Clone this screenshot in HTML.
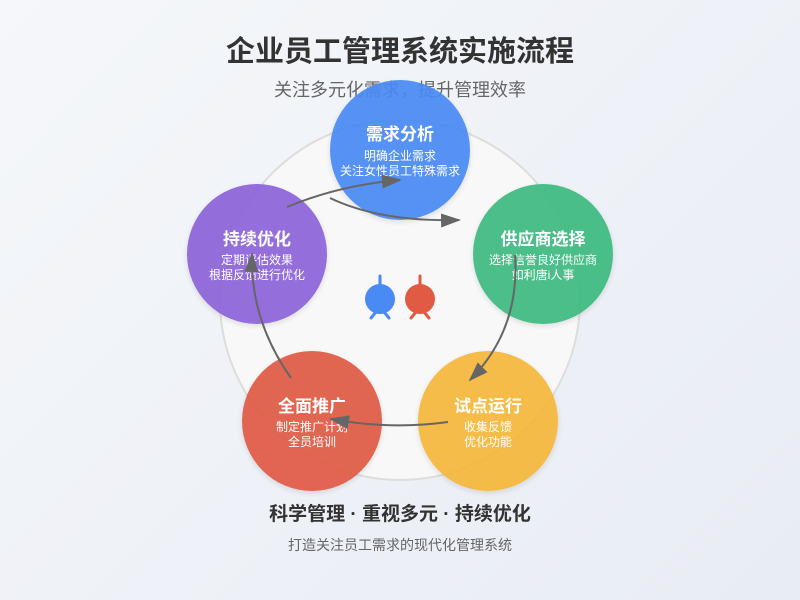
<!DOCTYPE html>
<html><head><meta charset="utf-8"><style>
html,body{margin:0;padding:0}
body{width:800px;height:600px;overflow:hidden;background:linear-gradient(135deg,#f5f7fa 0%,#e8ecf4 100%);font-family:"Liberation Sans","Noto Sans CJK SC",sans-serif}
</style></head><body>
<svg width="800" height="600" viewBox="0 0 800 600" xmlns="http://www.w3.org/2000/svg" style="position:absolute;left:0;top:0">
<defs>
<marker id="a" markerWidth="20" markerHeight="14" refX="18" refY="7" orient="auto" markerUnits="userSpaceOnUse" viewBox="0 0 20 14"><path d="M0,0 L20,7 L0,14z" fill="#666"/></marker>
<filter id="s" x="-20%" y="-20%" width="140%" height="140%"><feDropShadow dx="0" dy="2" stdDeviation="3" flood-opacity="0.12"/></filter>
</defs>
<text x="400" y="61" text-anchor="middle" font-size="29" font-weight="bold" fill="#333" font-family="Liberation Sans,Noto Sans CJK SC,sans-serif">企业员工管理系统实施流程</text>
<text x="400" y="96" text-anchor="middle" font-size="18" fill="#666" font-family="Liberation Sans,Noto Sans CJK SC,sans-serif">关注多元化需求，提升管理效率</text>
<circle cx="400" cy="300" r="180" fill="#f8f8f8" stroke="#ddd" stroke-width="2"/>
<g filter="url(#s)" opacity="0.92">
<circle cx="400" cy="150" r="70" fill="#4a8af4"/>
<circle cx="543" cy="254" r="70" fill="#3dba80"/>
<circle cx="488" cy="421" r="70" fill="#f5b73b"/>
<circle cx="312" cy="421" r="70" fill="#e05a44"/>
<circle cx="257" cy="254" r="70" fill="#8c63d9"/>
</g>
<g font-family="Liberation Sans,Noto Sans CJK SC,sans-serif" fill="#fff" text-anchor="middle">
<text x="400" y="140" font-size="17" font-weight="bold">需求分析</text>
<text x="400" y="160" font-size="12">明确企业需求</text>
<text x="400" y="175" font-size="12">关注女性员工特殊需求</text>
<text x="543" y="245" font-size="17" font-weight="bold">供应商选择</text>
<text x="543" y="264" font-size="12">选择信誉良好供应商</text>
<text x="543" y="279" font-size="12">如利唐i人事</text>
<text x="488" y="412" font-size="17" font-weight="bold">试点运行</text>
<text x="488" y="431" font-size="12">收集反馈</text>
<text x="488" y="446" font-size="12">优化功能</text>
<text x="312" y="412" font-size="17" font-weight="bold">全面推广</text>
<text x="312" y="431" font-size="12">制定推广计划</text>
<text x="312" y="446" font-size="12">全员培训</text>
<text x="257" y="245" font-size="17" font-weight="bold">持续优化</text>
<text x="257" y="264" font-size="12">定期评估效果</text>
<text x="257" y="279" font-size="12">根据反馈进行优化</text>
</g>
<g fill="none" stroke="#666" stroke-width="2" marker-end="url(#a)">
<path d="M287,207 Q340,185 400,180"/>
<path d="M330,198 Q380,222 459,220"/>
<path d="M515,255 Q520,330 470,380"/>
<path d="M448,422 Q390,430 331,419"/>
<path d="M291,378 Q250,320 252,254"/>
</g>
<g stroke-width="3" stroke-linecap="round">
<line x1="380" y1="276" x2="380" y2="290" stroke="#4a8af4"/>
<circle cx="380" cy="299" r="15" fill="#4a8af4"/>
<line x1="376" y1="312" x2="371" y2="318" stroke="#4a8af4"/>
<line x1="384" y1="312" x2="389" y2="318" stroke="#4a8af4"/>
<line x1="420" y1="276" x2="420" y2="290" stroke="#e05a44"/>
<circle cx="420" cy="299" r="15" fill="#e05a44"/>
<line x1="416" y1="312" x2="411" y2="318" stroke="#e05a44"/>
<line x1="424" y1="312" x2="429" y2="318" stroke="#e05a44"/>
</g>
<text x="400" y="520" text-anchor="middle" font-size="19" font-weight="bold" fill="#333" font-family="Liberation Sans,Noto Sans CJK SC,sans-serif">科学管理 · 重视多元 · 持续优化</text>
<text x="400" y="550" text-anchor="middle" font-size="14" fill="#666" font-family="Liberation Sans,Noto Sans CJK SC,sans-serif">打造关注员工需求的现代化管理系统</text>
</svg>
</body></html>
